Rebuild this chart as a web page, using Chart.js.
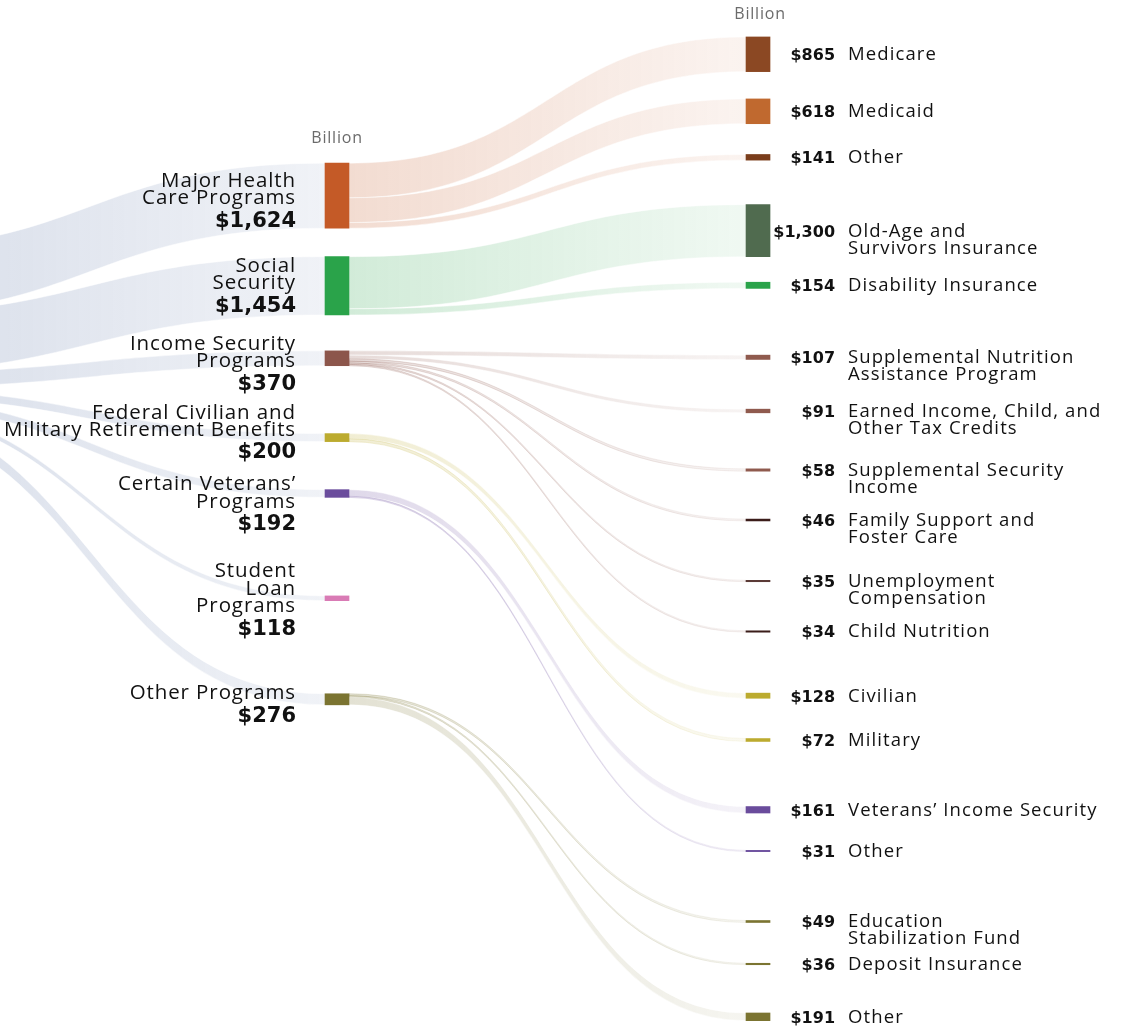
<!DOCTYPE html>
<html>
<head>
<meta charset="utf-8">
<script src="https://cdn.jsdelivr.net/npm/chart.js@4.4.1/dist/chart.umd.min.js"></script>
<style>
  html, body { margin: 0; padding: 0; background: #fff; }
  #wrap { width: 1121px; height: 1027px; }
</style>
</head>
<body>
<div id="wrap"><canvas id="sankey" width="1121" height="1027"></canvas></div>
<script>
// program groups (middle column), billions of dollars
const midNames = [
    ['Major Health', 'Care Programs'],
    ['Social', 'Security'],
    ['Income Security', 'Programs'],
    ['Federal Civilian and', 'Military Retirement Benefits'],
    ['Certain Veterans’', 'Programs'],
    ['Student', 'Loan', 'Programs'],
    ['Other Programs']
];
const midValues = [1624, 1454, 370, 200, 192, 118, 276];

// individual programs (right column), billions of dollars
const rightNames = [
    ['Medicare'], ['Medicaid'], ['Other'],
    ['Old-Age and', 'Survivors Insurance'], ['Disability Insurance'],
    ['Supplemental Nutrition', 'Assistance Program'],
    ['Earned Income, Child, and', 'Other Tax Credits'],
    ['Supplemental Security', 'Income'],
    ['Family Support and', 'Foster Care'],
    ['Unemployment', 'Compensation'],
    ['Child Nutrition'],
    ['Civilian'], ['Military'],
    ['Veterans’ Income Security'], ['Other'],
    ['Education', 'Stabilization Fund'], ['Deposit Insurance'], ['Other']
];
const rightValues = [865, 618, 141, 1300, 154, 107, 91, 58, 46, 35, 34, 128, 72, 161, 31, 49, 36, 191];
// index of the group each program belongs to
const rightParent = [0, 0, 0, 1, 1, 2, 2, 2, 2, 2, 2, 3, 3, 4, 4, 6, 6, 6];

// layout: column positions (x scale) and node centres along the value axis (y scale, $B from top)
const COL_X = [-0.1734, 1, 2];
const SOURCE_TOP = 6229;
const midCenter = [4880, 7127, 8935, 10913, 12307, 14920, 17439];
const rightCenter = [1354, 2776, 3923, 5753, 7115, 8910, 10249, 11721, 12968, 14489, 15748,
    17349, 18454, 20194, 21222, 22980, 24040, 25357];
// small vertical nudges (px) of the middle labels
const midLabelShift = [4, -1, 4.5, -6.3, 9.5, 0.5, 3.7];

// colours
const SOURCE_RGB = [90, 115, 165];
const midColors = ['#c45a27', '#2aa34a', '#8c564b', '#bcab2f', '#6a4c9c', '#d97bb5', '#7b7431'];
const rightColors = ['#8b4823', '#c0692f', '#7a3d1b', '#506b4f', '#2aa34a', '#8f5a4e', '#8f5a4e',
    '#8f5a4e', '#3b1d1a', '#5b3a36', '#3b1d1a', '#bcab2f', '#bcab2f', '#6a4c9c', '#6a4c9c',
    '#7b7431', '#7b7431', '#7b7431'];

const FONT = '"Open Sans", "DejaVu Sans", sans-serif';
const BOLD = 'bold {s}px "DejaVu Sans", sans-serif';
const TEXT = '#111111';

/**
 * hex -> [r, g, b]
 */
const rgbOf = (hex) => [1, 3, 5].map(i => parseInt(hex.substring(i, i + 2), 16));
const rgba = (c, a) => `rgba(${c[0]},${c[1]},${c[2]},${a})`;

const fmt = (v) => '$' + v.toLocaleString('en-US');
const bold = (s) => BOLD.replace('{s}', s);

// node tops on the value axis
const sourceTotal = midValues.reduce((a, b) => a + b, 0);
const midTop = midValues.map((v, i) => midCenter[i] - v / 2);
const rightTop = rightValues.map((v, i) => rightCenter[i] - v / 2);
const tops = [[SOURCE_TOP], midTop, rightTop];

// links: [column, index] -> [column, index]
const links = [];
midValues.forEach((v, i) => links.push({ from: [0, 0], to: [1, i], value: v, rgb: SOURCE_RGB, a0: 0.25, a1: 0.09 }));
rightValues.forEach((v, j) => links.push({
    from: [1, rightParent[j]], to: [2, j], value: v,
    rgb: rgbOf(midColors[rightParent[j]]), a0: 0.21, a1: 0.07
}));

/**
 * draws the bands between the nodes, under the bars
 */
const flowPlugin = {
    id: 'flows',
    beforeDatasetsDraw(chart) {
        const { ctx, scales: { y } } = chart;
        const used = {};
        ctx.save();
        links.forEach(l => {
            const src = chart.getDatasetMeta(l.from[0]).data[l.from[1]];
            const tgt = chart.getDatasetMeta(l.to[0]).data[l.to[1]];
            const key = l.from.join('-');
            const off = used[key] || 0;
            used[key] = off + l.value;
            const sTop = tops[l.from[0]][l.from[1]] + off;
            const tTop = tops[l.to[0]][l.to[1]];
            const x0 = src.x + src.width / 2;
            const x1 = tgt.x - tgt.width / 2;
            const xm = (x0 + x1) / 2;
            const ys0 = y.getPixelForValue(sTop), ys1 = y.getPixelForValue(sTop + l.value);
            const yt0 = y.getPixelForValue(tTop), yt1 = y.getPixelForValue(tTop + l.value);
            const grad = ctx.createLinearGradient(x0, 0, x1, 0);
            grad.addColorStop(0, rgba(l.rgb, l.a0));
            grad.addColorStop(1, rgba(l.rgb, l.a1));
            ctx.fillStyle = grad;
            ctx.beginPath();
            ctx.moveTo(x0, ys0);
            ctx.bezierCurveTo(xm, ys0, xm, yt0, x1, yt0);
            ctx.lineTo(x1, yt1);
            ctx.bezierCurveTo(xm, yt1, xm, ys1, x0, ys1);
            ctx.closePath();
            ctx.fill();
            if (ys1 - ys0 < 3) {
                // thin band: give it a visible edge
                ctx.strokeStyle = grad;
                ctx.lineWidth = 1;
                ctx.stroke();
            } else {
                // thick band: faint white seam against its neighbours
                ctx.strokeStyle = 'rgba(255,255,255,0.7)';
                ctx.lineWidth = 0.7;
                ctx.stroke();
            }
        });
        ctx.restore();
    }
};

/**
 * labels for both columns and the "Billion" headers
 */
const labelPlugin = {
    id: 'labels',
    afterDatasetsDraw(chart) {
        const { ctx, scales: { y } } = chart;
        const mid = chart.getDatasetMeta(1).data;
        const right = chart.getDatasetMeta(2).data;
        ctx.save();

        // headers
        ctx.fillStyle = '#6b6b6b';
        ctx.font = '16px ' + FONT;
        ctx.letterSpacing = '0.8px';
        ctx.textAlign = 'center';
        ctx.textBaseline = 'alphabetic';
        ctx.fillText('Billion', mid[0].x, y.getPixelForValue(midTop[0]) - 20);
        ctx.fillText('Billion', right[0].x + 2, y.getPixelForValue(rightTop[0]) - 17.5);

        // middle column: name lines + bold value, block centred on the node
        ctx.fillStyle = TEXT;
        ctx.textAlign = 'right';
        midNames.forEach((lines, i) => {
            const el = mid[i];
            const xr = el.x - el.width / 2 - 29;
            const c = y.getPixelForValue(midCenter[i]) + midLabelShift[i];
            const h = 14.5 + (lines.length - 1) * 17.3 + 22.5;
            let base = c - h / 2 + 14.5;
            ctx.font = '20.5px ' + FONT;
            ctx.letterSpacing = '0.9px';
            lines.forEach((t, k) => ctx.fillText(t, xr, base + k * 17.3));
            ctx.font = bold(21);
            ctx.letterSpacing = '0px';
            ctx.fillText(fmt(midValues[i]), xr, base + (lines.length - 1) * 17.3 + 22.5);
        });

        // right column: bold value, then name
        rightNames.forEach((lines, j) => {
            const el = right[j];
            const xe = el.x + el.width / 2;
            const base = y.getPixelForValue(rightCenter[j]) + 6;
            ctx.textAlign = 'right';
            ctx.font = bold(16);
            ctx.letterSpacing = '0px';
            ctx.fillText(fmt(rightValues[j]), xe + 65, base);
            ctx.textAlign = 'left';
            ctx.font = '18.5px ' + FONT;
            ctx.letterSpacing = '1.1px';
            lines.forEach((t, k) => ctx.fillText(t, xe + 78, base + k * 17));
        });
        ctx.restore();
    }
};

const element = document.getElementById('sankey').getContext('2d');
const graph = new Chart(element, {
    type: 'bar',
    data: {
        datasets: [
            {
                label: 'Total',
                data: [{ x: COL_X[0], y: [SOURCE_TOP, SOURCE_TOP + sourceTotal] }],
                backgroundColor: rgba(SOURCE_RGB, 1)
            },
            {
                label: 'Program groups',
                data: midValues.map((v, i) => ({ x: COL_X[1], y: [midTop[i], midTop[i] + v] })),
                backgroundColor: midColors
            },
            {
                label: 'Programs',
                data: rightValues.map((v, j) => ({ x: COL_X[2], y: [rightTop[j], rightTop[j] + v] })),
                backgroundColor: rightColors
            }
        ]
    },
    options: {
        responsive: false,
        animation: false,
        devicePixelRatio: 1,
        layout: { padding: 0 },
        datasets: { bar: { grouped: false, barThickness: 24, borderWidth: 0 } },
        plugins: {
            legend: { display: false },
            tooltip: { enabled: false },
            title: { display: false }
        },
        scales: {
            x: { type: 'linear', offset: false, min: 0.19952, max: 2.8622, display: false },
            y: { type: 'linear', reverse: true, min: 0, max: 25611, display: false }
        }
    },
    plugins: [flowPlugin, labelPlugin]
});
</script>
</body>
</html>
